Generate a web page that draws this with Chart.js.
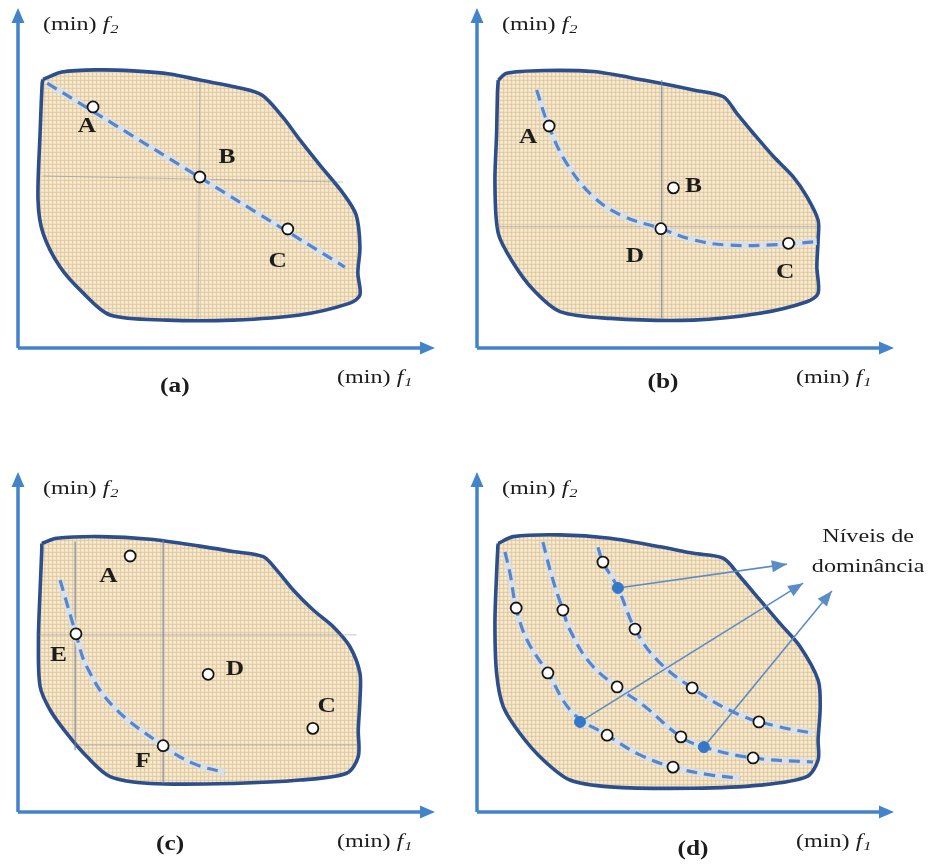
<!DOCTYPE html>
<html><head><meta charset="utf-8">
<script src="https://cdn.jsdelivr.net/npm/chart.js@4.4.1/dist/chart.umd.min.js"></script>
<style>
html,body{margin:0;padding:0;background:#fff;width:932px;height:865px;overflow:hidden;}
canvas{position:absolute;}
</style></head><body>
<canvas id="pa" width="459" height="400" style="left:0;top:0"></canvas>
<canvas id="pb" width="473" height="400" style="left:459px;top:0"></canvas>
<canvas id="pc" width="459" height="401" style="left:0;top:464px"></canvas>
<canvas id="pd" width="473" height="401" style="left:459px;top:464px"></canvas>
<script>
// ---------- DATA (objective space, 0..100 along f1 and f2) ----------
const captions = ['(a)', '(b)', '(c)', '(d)'];
const captionX = [37.6, 44.6, 36.5, 51.8];
const axisLabelX = '(min) f1';
const axisLabelY = '(min) f2';

// Panel (a)
const regionA = [[6,79],[10.6,81.2],[19.7,81.8],[27.6,81.5],[36.4,80.6],[43.6,78.8],[53.2,76.5],[58.5,74.4],[63.5,67.9],[67.6,61.2],[72.4,53.8],[77.9,45.6],[81.1,39.1],[82,29.7],[81.5,22.1],[82,15.6],[79.6,13.2],[67.6,9.7],[51.6,8.2],[35.7,8.2],[22.1,9.7],[15.6,16.2],[10.1,23.8],[6,33.8],[4.8,43.5],[5.3,63.2],[5.8,77.9]];
const frontA = [[7,77.9],[78.4,23.8]];
const pointsA = [[18,70.9],[43.6,50.3],[64.7,35]];
const labelsA = ['A','B','C'];
const labelPosA = [[16.5,65],[50.1,55.9],[62.3,25.3]];
const guidesA = [[[43.6,78.2],[43.2,8.2]], [[6,50.6],[77.9,48.8]]];

// Panel (b)
const regionB = [[5.1,78.8],[7.1,80.8],[15.9,81.6],[27.9,81.3],[39.9,78.8],[51.9,75.9],[59.1,73.9],[62.3,69],[66.3,63.1],[71.1,56.3],[75.8,50.4],[79.1,44.5],[81.8,37.6],[81.8,31.8],[81.5,23.9],[81.8,16.1],[79.1,13.6],[67.9,10.2],[51.9,8.2],[31.9,8.7],[19.9,10.7],[13.5,17.1],[8.7,25],[5.1,33.7],[4.3,48.4],[4.7,63.1],[4.9,74.9]];
const frontB = [[14.3,75.9],[17.1,65.6],[21.5,54.3],[27.9,44.5],[35,38.8],[43.9,35.2],[51.9,31.8],[59.9,30.3],[71.9,30.4],[81.5,31.3]];
const pointsB = [[17.3,65.3],[47.1,47.1],[44.1,35.1],[74.7,30.8]];
const labelsB = ['A','B','D','C'];
const labelPosB = [[12.3,61.7],[51.9,47.4],[37.9,26.9],[73.9,22]];
const guidesB = [[[44.3,78.8],[44.3,8.8]], [[4.8,35.7],[81.5,35.7]]];

// Panel (c)
const regionC = [[5.7,79],[9.3,80.5],[19.7,81],[31.7,80.2],[43.6,78.2],[51.6,76.6],[58.8,75.1],[62,71.2],[66,65.3],[70.8,59.4],[75.6,54.5],[79.6,48.6],[82,40.8],[82,32.9],[81.6,24.1],[81.6,16.3],[78.8,11.4],[67.6,9.4],[51.6,8.4],[31.7,8.4],[22.1,10.4],[16.5,16.3],[11.7,23.1],[7.7,30],[5.3,36.9],[4.9,50.6],[5.3,65.3],[5.7,77.1]];
const frontC = [[10.1,68.2],[13.9,52.4],[16.5,42.7],[22.9,31],[34.8,19.5],[42,14.3],[49.6,11.6]];
const pointsC = [[26.9,75.3],[13.9,52.4],[45.6,40.5],[70.7,24.6],[34.8,19.5]];
const labelsC = ['A','E','D','C','F'];
const labelPosC = [[21.7,69.2],[9.7,45.9],[52,41.8],[74,31],[30,14.8]];
const guidesC = [[[13.7,79.5],[13.7,18.2]], [[34.8,80],[34.8,8.4]], [[5,52.1],[81.2,52.1]], [[13.8,19.7],[81.6,19.7]]];

// Panel (d)
const regionD = [[5.1,79],[8.7,81],[19.9,81.5],[31.9,80.5],[43.9,78],[51.9,76.1],[59.1,74.6],[63.1,69.2],[67.9,62.3],[72.7,55.4],[77.5,48.6],[81.8,38.8],[82.3,31],[81.8,21.2],[81.8,15.3],[79.1,10.4],[67.9,7.9],[51.9,7],[31.9,7.4],[22.3,9.4],[15.9,15.3],[10.3,23.1],[6.3,31],[4.7,40.8],[4.3,55.5],[4.7,70.2],[5,78]];
const levelD1 = [[6.7,76.5],[7.9,70.3],[9.4,60],[12,50.6],[17,40.9],[23,29.1],[31.2,22.6],[39.1,16.8],[47,13.2],[55.9,10.9],[63.1,10]];
const levelD2 = [[15.8,79.4],[18,69.1],[20.6,59.4],[22.3,53.5],[27.1,43.8],[33.6,36.8],[39.8,31.5],[48.9,22.1],[54.4,19.1],[66.2,15.9],[80.6,14.7]];
const levelD3 = [[29,77.9],[30.2,73.5],[33.8,65.9],[37.9,53.8],[43.2,44.7],[51.6,36.5],[63.1,28.5],[72.7,25],[80.6,23.2]];
const pointsD = [[9.4,60],[20.6,59.4],[30.2,73.5],[37.9,53.8],[17,40.9],[33.6,36.8],[51.6,36.5],[67.6,26.5],[31.2,22.6],[48.9,22.1],[66.2,15.9],[47,13.2]];
const markedD = [[33.8,65.9],[24.7,26.5],[54.4,19.1]];
const arrowTipsD = [[74.3,72.9],[78.2,67.3],[85.1,65]];
const noteD = ['Níveis de', 'dominância'];
const notePosD = [[93.8,80.9],[93.8,72.1]];

// ---------- STYLE ----------
const AXIS_BLUE = '#4383c9';
const NAVY = '#2d4e8c';
const DASH_BLUE = '#5d84c2';
const HALO = 'rgba(210,225,244,0.8)';
const ARROW_BLUE = '#5b8cc8';
const GUIDE = 'rgba(110,128,160,0.45)';
const TXT = '#1c1c1c';
const SX = 1.27; // horizontal stretch of lettering

const xy = a => a.map(([x, y]) => ({x, y}));

function texture(ctx) {
  const c = document.createElement('canvas');
  c.width = 4; c.height = 4;
  const g = c.getContext('2d');
  g.fillStyle = '#f3e0be'; g.fillRect(0, 0, 4, 4);
  g.fillStyle = 'rgba(200,178,140,0.35)'; g.fillRect(0, 0, 4, 1); g.fillRect(0, 0, 1, 4);
  g.fillStyle = 'rgba(255,250,238,0.45)'; g.fillRect(2, 2, 2, 1); g.fillRect(2, 1, 1, 2);
  return ctx.createPattern(c, 'repeat');
}

function txt(ctx, s, x, y, font, align) {
  ctx.save();
  ctx.translate(x, y);
  ctx.scale(SX, 1);
  ctx.font = font;
  ctx.textAlign = align || 'center';
  ctx.textBaseline = 'middle';
  ctx.fillStyle = TXT;
  ctx.fillText(s, 0, 0);
  const w = ctx.measureText(s).width * SX;
  ctx.restore();
  return w;
}

function axisLabel(ctx, s, x, y) {
  // "(min) f" + subscript digit
  const base = s.slice(0, -2), f = s.slice(-2, -1), sub = s.slice(-1);
  let cx = x;
  cx += txt(ctx, base, cx, y, '19px "Liberation Serif"', 'left');
  cx += txt(ctx, f, cx, y, 'italic 19px "Liberation Serif"', 'left') + 1;
  txt(ctx, sub, cx, y + 5, 'italic 13px "Liberation Serif"', 'left');
}

const decor = {
  id: 'decor',
  afterDatasetsDraw(chart) {
    const o = chart.options.plugins.decor;
    const {ctx, chartArea: {left, top, right, bottom}, scales: {x, y}} = chart;
    ctx.save();
    // axes with arrowheads
    ctx.strokeStyle = AXIS_BLUE; ctx.fillStyle = AXIS_BLUE; ctx.lineWidth = 3.5;
    ctx.beginPath();
    ctx.moveTo(left, bottom); ctx.lineTo(right - 10, bottom);
    ctx.moveTo(left, bottom); ctx.lineTo(left, top + 10);
    ctx.stroke();
    ctx.beginPath(); ctx.moveTo(right, bottom); ctx.lineTo(right - 15, bottom - 6.5); ctx.lineTo(right - 15, bottom + 6.5); ctx.closePath(); ctx.fill();
    ctx.beginPath(); ctx.moveTo(left, top); ctx.lineTo(left - 6.5, top + 15); ctx.lineTo(left + 6.5, top + 15); ctx.closePath(); ctx.fill();
    // arrowheads of annotation arrows
    (o.arrowSets || []).forEach(i => {
      const pts = chart.getDatasetMeta(i).data;
      const a = pts[pts.length - 2], b = pts[pts.length - 1];
      const ang = Math.atan2(b.y - a.y, b.x - a.x);
      ctx.save();
      ctx.translate(b.x, b.y); ctx.rotate(ang);
      ctx.fillStyle = ARROW_BLUE;
      ctx.beginPath(); ctx.moveTo(0, 0); ctx.lineTo(-15, -6); ctx.lineTo(-15, 6); ctx.closePath(); ctx.fill();
      ctx.restore();
    });
    // point labels
    (o.labels || []).forEach((s, i) => {
      const p = o.labelPos[i];
      txt(ctx, s, x.getPixelForValue(p[0]), y.getPixelForValue(p[1]), 'bold 20px "Liberation Serif"');
    });
    (o.notes || []).forEach((s, i) => {
      const p = o.notePos[i];
      txt(ctx, s, x.getPixelForValue(p[0]), y.getPixelForValue(p[1]), '19px "Liberation Serif"');
    });
    // axis titles and caption
    axisLabel(ctx, axisLabelY, left + 25, top + 17);
    axisLabel(ctx, axisLabelX, right - 98, bottom + 30);
    txt(ctx, o.caption, x.getPixelForValue(o.captionX), bottom + o.captionDy, 'bold 20px "Liberation Serif"');
    ctx.restore();
  }
};

function lineDs(pts, extra) {
  return Object.assign({type: 'line', data: xy(pts), pointRadius: 0, fill: false, tension: 0.4, clip: false}, extra);
}

function panel(id, p) {
  const canvas = document.getElementById(id);
  const ctx = canvas.getContext('2d');
  const ds = [];
  ds.push(lineDs(p.points, {type: 'scatter', showLine: false, pointRadius: 5.5, pointBackgroundColor: '#ffffff', pointBorderColor: '#151515', pointBorderWidth: 1.8, order: 1}));
  if (p.marked) ds.push(lineDs(p.marked, {type: 'scatter', showLine: false, pointRadius: 5.5, pointBackgroundColor: '#3577c9', pointBorderColor: '#3577c9', pointBorderWidth: 1, order: 0}));
  const arrowSets = [];
  (p.arrows || []).forEach(a => { arrowSets.push(ds.length); ds.push(lineDs(a, {borderColor: ARROW_BLUE, borderWidth: 1.6, tension: 0, order: 2})); });
  p.fronts.forEach(f => {
    ds.push(lineDs(f, {borderColor: DASH_BLUE, borderWidth: 3.2, borderDash: [11, 7], order: 3}));
    ds.push(lineDs(f, {borderColor: HALO, borderWidth: 7, order: 4}));
  });
  (p.guides || []).forEach(g => ds.push(lineDs(g, {borderColor: GUIDE, borderWidth: 1, tension: 0, order: 5})));
  ds.push(lineDs(p.region.concat([p.region[0]]), {borderColor: NAVY, borderWidth: 3.6, backgroundColor: texture(ctx), fill: 'shape', tension: 0.3, order: 9}));
  return new Chart(ctx, {
    type: 'scatter',
    data: {datasets: ds},
    plugins: [decor],
    options: {
      responsive: false, animation: false, events: [],
      layout: {padding: {left: 18, top: 8, right: canvas.width - 435, bottom: canvas.height - 348}},
      scales: {x: {type: 'linear', min: 0, max: 100, display: false}, y: {type: 'linear', min: 0, max: 100, display: false}},
      plugins: {
        legend: {display: false}, tooltip: {enabled: false},
        decor: {labels: p.labels, labelPos: p.labelPos, notes: p.notes, notePos: p.notePos, arrowSets,
                caption: p.caption, captionX: p.captionX, captionDy: p.captionDy}
      }
    }
  });
}

panel('pa', {region: regionA, fronts: [frontA], points: pointsA, labels: labelsA, labelPos: labelPosA, guides: guidesA, caption: captions[0], captionX: captionX[0], captionDy: 39});
panel('pb', {region: regionB, fronts: [frontB], points: pointsB, labels: labelsB, labelPos: labelPosB, guides: guidesB, caption: captions[1], captionX: captionX[1], captionDy: 35});
panel('pc', {region: regionC, fronts: [frontC], points: pointsC, labels: labelsC, labelPos: labelPosC, guides: guidesC, caption: captions[2], captionX: captionX[2], captionDy: 33});
panel('pd', {region: regionD, fronts: [levelD1, levelD2, levelD3], points: pointsD, marked: markedD,
  arrows: [[markedD[0], arrowTipsD[0]], [markedD[1], arrowTipsD[1]], [markedD[2], arrowTipsD[2]]],
  notes: noteD, notePos: notePosD, caption: captions[3], captionX: captionX[3], captionDy: 38});
</script>
</body></html>
